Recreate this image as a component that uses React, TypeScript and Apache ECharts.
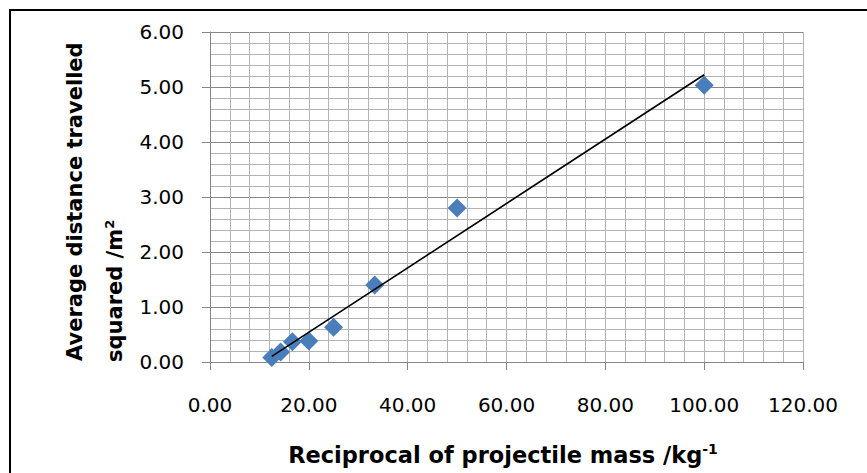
import React, { useEffect, useRef } from "react";
import * as echarts from "echarts";

const reciprocalMass: number[] = [100, 50, 33.33, 25, 20, 16.67, 14.29, 12.5];
const distanceSquared: number[] = [5.03, 2.80, 1.40, 0.63, 0.38, 0.37, 0.18, 0.08];
const xTitle = "Reciprocal of projectile mass /kg";
const xTitleSup = "-1";
const yTitle1 = "Average distance travelled";
const yTitle2 = "squared /m";
const yTitle2Sup = "2";

function regression(xs: number[], ys: number[]) {
  const n = xs.length;
  const mx = xs.reduce((a, b) => a + b, 0) / n;
  const my = ys.reduce((a, b) => a + b, 0) / n;
  let sxy = 0;
  let sxx = 0;
  for (let i = 0; i < n; i++) {
    sxy += (xs[i] - mx) * (ys[i] - my);
    sxx += (xs[i] - mx) * (xs[i] - mx);
  }
  const slope = sxy / sxx;
  return { slope, intercept: my - slope * mx };
}

export default function App() {
  const ref = useRef<HTMLDivElement>(null);
  useEffect(() => {
    if (!ref.current) return;
    const chart = echarts.init(ref.current, undefined, { renderer: "svg" });
    const { slope, intercept } = regression(reciprocalMass, distanceSquared);
    const xMin = Math.min(...reciprocalMass);
    const xMax = Math.max(...reciprocalMass);
    const trend = [
      [xMin, slope * xMin + intercept],
      [xMax, slope * xMax + intercept],
    ];
    const font = "'DejaVu Sans', sans-serif";
    chart.setOption({
      animation: false,
      backgroundColor: "#ffffff",
      grid: { left: 210, right: 64, top: 32, bottom: 111, containLabel: false },
      xAxis: {
        type: "value",
        min: 0,
        max: 120,
        interval: 20,
        axisLine: { show: true, lineStyle: { color: "#868686", width: 1 } },
        axisTick: { show: true, inside: false, length: 8, lineStyle: { color: "#868686" } },
        axisLabel: {
          margin: 33,
          color: "#000",
          fontSize: 20,
          fontFamily: font,
          formatter: (v: number) => v.toFixed(2),
        },
        splitLine: { show: true, lineStyle: { color: "#b3b3b3", width: 1 } },
        minorTick: { show: false, splitNumber: 5 },
        minorSplitLine: { show: true, lineStyle: { color: "#b3b3b3", width: 1 } },
      },
      yAxis: {
        type: "value",
        min: 0,
        max: 6,
        interval: 1,
        axisLine: { show: true, lineStyle: { color: "#868686", width: 1 } },
        axisTick: { show: true, inside: false, length: 8, lineStyle: { color: "#868686" } },
        axisLabel: {
          margin: 26,
          color: "#000",
          fontSize: 20,
          fontFamily: font,
          formatter: (v: number) => v.toFixed(2),
        },
        splitLine: { show: true, lineStyle: { color: "#878787", width: 1 } },
        minorTick: { show: false, splitNumber: 5 },
        minorSplitLine: { show: true, lineStyle: { color: "#b3b3b3", width: 1 } },
      },
      series: [
        {
          type: "scatter",
          data: reciprocalMass.map((x, i) => [x, distanceSquared[i]]),
          symbol: "diamond",
          symbolSize: 19,
          itemStyle: { color: "#4a7ebb", opacity: 1 },
          z: 2,
        },
        {
          type: "line",
          data: trend,
          symbol: "none",
          lineStyle: { color: "#000", width: 1.6 },
          z: 3,
        },
      ],
      graphic: [
        {
          type: "rect",
          shape: { x: 10, y: 10, width: 1000, height: 1000 },
          style: { fill: "none", stroke: "#000", lineWidth: 2 },
          silent: true,
        },
        {
          type: "text",
          x: 503,
          y: 455,
          style: {
            text: `{b|${xTitle}}{s|${xTitleSup}}`,
            align: "center",
            verticalAlign: "middle",
            rich: {
              b: { fontSize: 22.5, fontWeight: "bold", fontFamily: font, fill: "#000" },
              s: { fontSize: 14, fontWeight: "bold", fontFamily: font, fill: "#000", padding: [0, 0, 13, 0] },
            },
          },
        },
        {
          type: "text",
          x: 75,
          y: 361,
          rotation: Math.PI / 2,
          style: {
            text: yTitle1,
            align: "left",
            verticalAlign: "middle",
            fontSize: 21,
            fontWeight: "bold",
            fontFamily: font,
            fill: "#000",
          },
        },
        {
          type: "text",
          x: 115,
          y: 362,
          rotation: Math.PI / 2,
          style: {
            text: `{b|${yTitle2}}{s|${yTitle2Sup}}`,
            align: "left",
            verticalAlign: "middle",
            rich: {
              b: { fontSize: 21, fontWeight: "bold", fontFamily: font, fill: "#000" },
              s: { fontSize: 13, fontWeight: "bold", fontFamily: font, fill: "#000", padding: [0, 0, 12, 0] },
            },
          },
        },
      ],
    });
    return () => chart.dispose();
  }, []);
  return (
    <div
      ref={ref}
      style={{ position: "absolute", left: 0, top: 0, width: 867, height: 473 }}
    />
  );
}
